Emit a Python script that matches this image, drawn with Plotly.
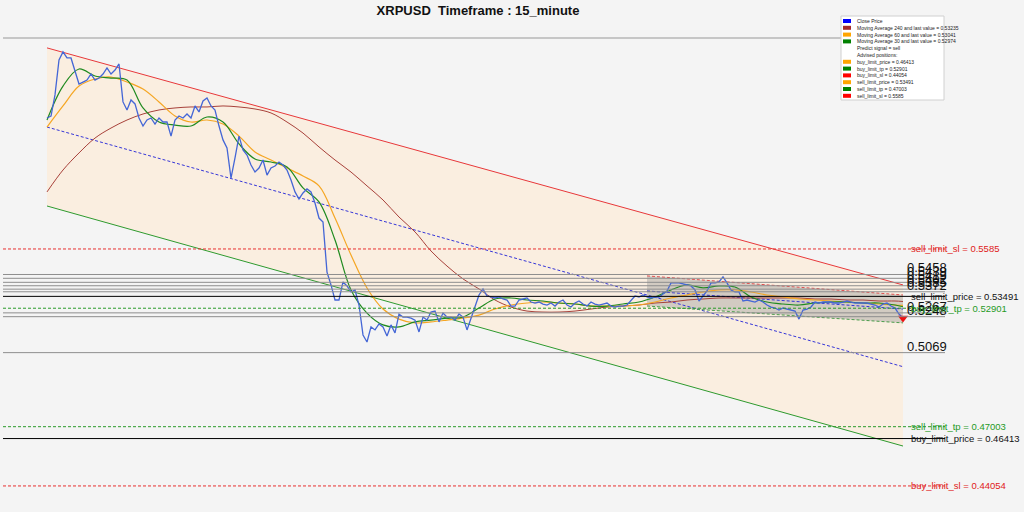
import plotly.graph_objects as go

# ---------------- data ----------------
symbol = "XRPUSD"
timeframe = "15_minute"

close = [
    0.6237, 0.6247, 0.6352, 0.6526, 0.6566, 0.6536, 0.6536, 0.6466, 0.6406, 0.6416,
    0.6426, 0.6456, 0.6426, 0.6436, 0.6456, 0.6486, 0.6456, 0.6476, 0.6506, 0.6317,
    0.6277, 0.6327, 0.6307, 0.6237, 0.6197, 0.6227, 0.6237, 0.6207, 0.6237, 0.6217,
    0.6217, 0.6147, 0.6227, 0.6247, 0.6237, 0.6257, 0.6237, 0.6297, 0.6267, 0.6322,
    0.6337, 0.6297, 0.6277, 0.6197, 0.6128, 0.6088, 0.5938, 0.6038, 0.6147, 0.6078,
    0.6053, 0.6003, 0.5968, 0.5988, 0.6028, 0.5953, 0.5988, 0.5998, 0.6018, 0.6003,
    0.5978, 0.5928, 0.5869, 0.5834, 0.5864, 0.5884, 0.5869, 0.5814, 0.5739, 0.5719,
    0.5470, 0.5406, 0.5331, 0.5331, 0.5421, 0.5401, 0.5371, 0.5381, 0.5306, 0.5157,
    0.5122, 0.5197, 0.5182, 0.5212, 0.5197, 0.5152, 0.5207, 0.5167, 0.5261, 0.5246,
    0.5246, 0.5241, 0.5231, 0.5172, 0.5246, 0.5231, 0.5271, 0.5276, 0.5222, 0.5266,
    0.5246, 0.5246, 0.5231, 0.5261, 0.5246, 0.5182, 0.5241, 0.5306, 0.5356, 0.5386,
    0.5351, 0.5346, 0.5341, 0.5346, 0.5336, 0.5331, 0.5301, 0.5301, 0.5331, 0.5336,
    0.5341, 0.5321, 0.5316, 0.5321, 0.5311, 0.5306, 0.5316, 0.5301, 0.5321, 0.5331,
    0.5306, 0.5296, 0.5316, 0.5326, 0.5311, 0.5301, 0.5321, 0.5311, 0.5306, 0.5311,
    0.5316, 0.5301, 0.5296, 0.5301, 0.5301, 0.5306, 0.5326, 0.5351, 0.5346, 0.5356,
    0.5346, 0.5341, 0.5346, 0.5346, 0.5361, 0.5376, 0.5416, 0.5416, 0.5416, 0.5411,
    0.5406, 0.5401, 0.5381, 0.5326, 0.5351, 0.5376, 0.5416, 0.5416, 0.5421, 0.5446,
    0.5416, 0.5381, 0.5371, 0.5371, 0.5326, 0.5331, 0.5326, 0.5321, 0.5331, 0.5321,
    0.5306, 0.5296, 0.5291, 0.5281, 0.5291, 0.5286, 0.5281, 0.5276, 0.5236, 0.5281,
    0.5286, 0.5296, 0.5321, 0.5316, 0.5321, 0.5321, 0.5321, 0.5316, 0.5316, 0.5321,
    0.5326, 0.5321, 0.5316, 0.5316, 0.5316, 0.5316, 0.5311, 0.5306, 0.5296, 0.5311,
    0.5316, 0.5301, 0.5291, 0.5261, 0.5241,
]
bar_index = list(range(len(close)))

ma_index = list(range(0, 213, 4)) + [214]
ma30 = [
    0.6227, 0.6396, 0.6481, 0.6446, 0.6436, 0.6426, 0.6287, 0.6217, 0.6202, 0.6197,
    0.6242, 0.6217, 0.6108, 0.6033, 0.6018, 0.5993, 0.5889, 0.5819, 0.5630, 0.5381,
    0.5266, 0.5207, 0.5197, 0.5222, 0.5231, 0.5241, 0.5246, 0.5291, 0.5336, 0.5341,
    0.5331, 0.5326, 0.5316, 0.5311, 0.5301, 0.5301, 0.5311, 0.5321, 0.5346, 0.5381,
    0.5406, 0.5391, 0.5401, 0.5396, 0.5346, 0.5321, 0.5311, 0.5306, 0.5316, 0.5321,
    0.5321, 0.5316, 0.5316, 0.5306, 0.52974,
]
ma60 = [
    0.6192, 0.6297, 0.6396, 0.6431, 0.6441, 0.6416, 0.6381, 0.6317, 0.6247, 0.6217,
    0.6227, 0.6207, 0.6147, 0.6068, 0.6028, 0.5988, 0.5948, 0.5899, 0.5739, 0.5555,
    0.5391, 0.5286, 0.5236, 0.5217, 0.5222, 0.5231, 0.5241, 0.5256, 0.5286, 0.5306,
    0.5316, 0.5321, 0.5316, 0.5311, 0.5301, 0.5301, 0.5301, 0.5306, 0.5321, 0.5341,
    0.5356, 0.5371, 0.5381, 0.5381, 0.5371, 0.5356, 0.5346, 0.5336, 0.5331, 0.5326,
    0.5321, 0.5316, 0.5311, 0.5306, 0.53041,
]
ma240 = [
    0.5869, 0.5978, 0.6063, 0.6137, 0.6187, 0.6227, 0.6257, 0.6277, 0.6287, 0.6292,
    0.6292, 0.6297, 0.6292, 0.6282, 0.6262, 0.6217, 0.6162, 0.6093, 0.6028, 0.5968,
    0.5899, 0.5829, 0.5744, 0.5670, 0.5575, 0.5500, 0.5436, 0.5386, 0.5331, 0.5296,
    0.5276, 0.5271, 0.5271, 0.5276, 0.5286, 0.5296, 0.5301, 0.5306, 0.5316, 0.5321,
    0.5331, 0.5336, 0.5341, 0.5341, 0.5341, 0.5341, 0.5341, 0.5341, 0.5336, 0.5336,
    0.5331, 0.5331, 0.5326, 0.5326, 0.53235,
]

# regression channels
channel_x = [0, 214]
channel_upper = [0.6586, 0.5406]
channel_mid = [0.6192, 0.4999]
channel_lower = [0.5799, 0.4604]
sub_x = [150, 214]
sub_upper = [0.5451, 0.5356]
sub_mid = [0.5376, 0.5286]
sub_lower = [0.5301, 0.5217]

# support / resistance levels
levels = [0.5458, 0.5439, 0.5419, 0.5402, 0.5385, 0.5372, 0.5267, 0.5248, 0.5069]
top_level = 0.6635

# advised positions
pos_names = ["buy_limit_price", "buy_limit_tp", "buy_limit_sl",
             "sell_limit_price", "sell_limit_tp", "sell_limit_sl"]
pos_values = [0.46413, 0.52901, 0.44054, 0.53491, 0.47003, 0.5585]
signal = "sell"

# ---------------- styling ----------------
BG = "#f4f4f4"
PEACH = "#faeee0"
W, H = 1024, 512
L, R, T, B = 3, 79, 30, 7
PW, PH = W - L - R, H - T - B
FONT = "Liberation Sans"
DASH = "3px,2px"

def paper_x(px):
    return (px - L) / PW

def paper_y(py):
    return (H - B - py) / PH

fig = go.Figure()

# big channel fill
fig.add_trace(go.Scatter(
    x=channel_x + channel_x[::-1], y=channel_upper + channel_lower[::-1],
    fill="toself", fillcolor=PEACH, line=dict(width=0), mode="lines",
    hoverinfo="skip", showlegend=False))
# small channel fill
fig.add_trace(go.Scatter(
    x=sub_x + sub_x[::-1], y=sub_upper + sub_lower[::-1],
    fill="toself", fillcolor="rgba(150,150,150,0.40)", line=dict(width=0),
    mode="lines", hoverinfo="skip", showlegend=False))

shapes = []
# top line
shapes.append(dict(type="line", xref="paper", x0=0, x1=1, yref="y",
                   y0=top_level, y1=top_level,
                   line=dict(color="#c6c6c6", width=2), layer="below"))
for lv in levels:
    shapes.append(dict(type="line", xref="paper", x0=0, x1=1, yref="y",
                       y0=lv, y1=lv, line=dict(color="#8e8e8e", width=1)))

pos_style = {
    "price": ("#000000", "solid", "#111111"),
    "tp": ("#2a9a2a", DASH, "#1f9a1f"),
    "sl": ("#e83030", DASH, "#e02020"),
}
for name, val in zip(pos_names, pos_values):
    kind = name.split("_")[-1]
    col, dash, _ = pos_style[kind]
    shapes.append(dict(type="line", xref="paper", x0=0, x1=1, yref="y",
                       y0=val, y1=val, line=dict(color=col, width=1, dash=dash)))

# channel lines
fig.add_trace(go.Scatter(x=channel_x, y=channel_upper, mode="lines",
                         line=dict(color="#e8383a", width=1), hoverinfo="skip", showlegend=False))
fig.add_trace(go.Scatter(x=channel_x, y=channel_lower, mode="lines",
                         line=dict(color="#2e9a2e", width=1), hoverinfo="skip", showlegend=False))
fig.add_trace(go.Scatter(x=channel_x, y=channel_mid, mode="lines",
                         line=dict(color="#3636d8", width=1, dash=DASH), hoverinfo="skip", showlegend=False))
fig.add_trace(go.Scatter(x=sub_x, y=sub_upper, mode="lines",
                         line=dict(color="#e05050", width=1, dash=DASH), hoverinfo="skip", showlegend=False))
fig.add_trace(go.Scatter(x=sub_x, y=sub_mid, mode="lines",
                         line=dict(color="#3636d8", width=1, dash=DASH), hoverinfo="skip", showlegend=False))
fig.add_trace(go.Scatter(x=sub_x, y=sub_lower, mode="lines",
                         line=dict(color="#4c9e4c", width=1, dash=DASH), hoverinfo="skip", showlegend=False))

# moving averages
fig.add_trace(go.Scatter(x=ma_index, y=ma240, mode="lines", line_shape="spline",
                         line=dict(color="#a8413a", width=1), showlegend=False))
fig.add_trace(go.Scatter(x=ma_index, y=ma60, mode="lines", line_shape="spline",
                         line=dict(color="#f5a623", width=1.2), showlegend=False))
fig.add_trace(go.Scatter(x=ma_index, y=ma30, mode="lines", line_shape="spline",
                         line=dict(color="#1f8a1f", width=1.2), showlegend=False))
# close price
fig.add_trace(go.Scatter(x=bar_index, y=close, mode="lines",
                         line=dict(color="#4466d6", width=1.3), showlegend=False))
# signal marker
fig.add_trace(go.Scatter(x=[bar_index[-1]], y=[close[-1]], mode="markers",
                         marker=dict(symbol="triangle-down", color="#ee1111", size=9),
                         showlegend=False))

annotations = []
# level labels
for lv in levels:
    annotations.append(dict(x=214.5, y=lv, xref="x", yref="y", text=f"{lv:.4f}",
                            showarrow=False, xanchor="left", yanchor="bottom", yshift=-3,
                            font=dict(family=FONT, size=13, color="#111111")))
# position labels
for name, val in zip(pos_names, pos_values):
    kind = name.split("_")[-1]
    annotations.append(dict(x=215.5, y=val, xref="x", yref="y", text=f"{name} = {val}",
                            showarrow=False, xanchor="left", yanchor="middle",
                            font=dict(family=FONT, size=9.5, color=pos_style[kind][2])))

# manual legend
legend_items = [
    ("Close Price", "#0000ff"),
    (f"Moving Average 240 and last value = {ma240[-1]}", "#a52a2a"),
    (f"Moving Average 60 and last value = {ma60[-1]}", "#ffa500"),
    (f"Moving Average 30 and last value = {ma30[-1]}", "#008000"),
    (f"Predict signal = {signal}", None),
    ("Advised positions:", None),
]
pos_colors = {"price": "#ffa500", "tp": "#008000", "sl": "#ff0000"}
for name, val in zip(pos_names, pos_values):
    legend_items.append((f"{name} = {val}", pos_colors[name.split("_")[-1]]))

shapes.append(dict(type="rect", xref="paper", yref="paper",
                   x0=paper_x(841), x1=paper_x(944), y0=paper_y(100), y1=paper_y(16),
                   fillcolor="white", line=dict(color="#d0d0d0", width=1)))
for k, (txt, col) in enumerate(legend_items):
    yc = 21 + k * 6.8
    if col:
        shapes.append(dict(type="rect", xref="paper", yref="paper",
                           x0=paper_x(843), x1=paper_x(851),
                           y0=paper_y(yc + 2), y1=paper_y(yc - 2),
                           fillcolor=col, line=dict(width=0)))
    annotations.append(dict(x=paper_x(855), y=paper_y(yc), xref="paper", yref="paper",
                            text=txt, showarrow=False, xanchor="left", yanchor="middle",
                            font=dict(family=FONT, size=5, color="#222222")))

fig.update_layout(
    width=W, height=H,
    margin=dict(l=L, r=R, t=T, b=B),
    paper_bgcolor=BG, plot_bgcolor=BG,
    title=dict(text=f"<b>{symbol}  Timeframe : {timeframe}</b>", x=478 / W, xref="container",
               xanchor="center", y=1 - 10 / H, yref="container", yanchor="middle",
               font=dict(family=FONT, size=13, color="#111111")),
    xaxis=dict(visible=False, range=[-11, 224.5]),
    yaxis=dict(visible=False, range=[0.43105, 0.66751]),
    shapes=shapes,
    annotations=annotations,
    showlegend=False,
)

fig.write_html("out.html")
